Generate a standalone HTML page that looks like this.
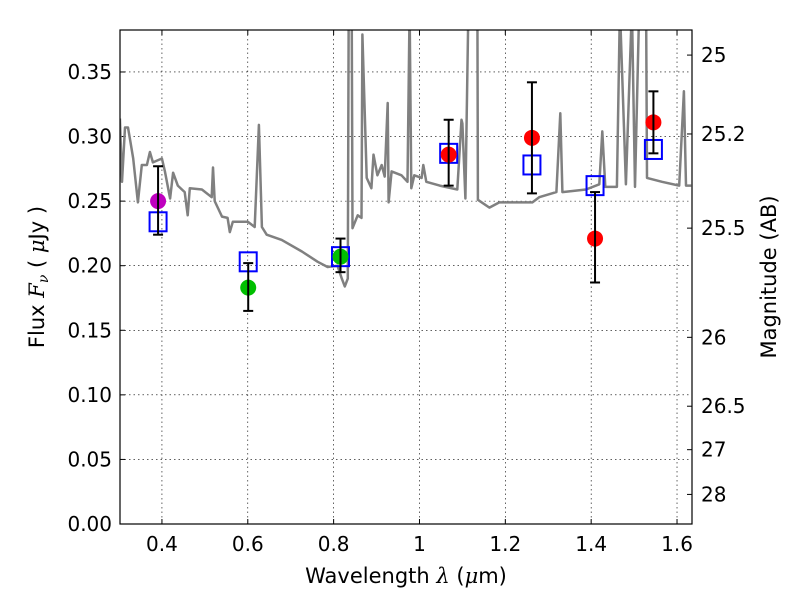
<!DOCTYPE html>
<html><head><meta charset="utf-8"><style>
body{margin:0;background:#fff;}
svg text{font-family:"DejaVu Sans","Liberation Sans",sans-serif;}
</style></head><body>
<svg id="chart" width="800" height="600"></svg>
<script>
const specLam=[0.302,0.307,0.314,0.321,0.326,0.333,0.344,0.353,0.365,0.372,0.379,0.400,0.407,0.419,0.426,0.437,0.453,0.460,0.465,0.493,0.516,0.519,0.523,0.540,0.553,0.558,0.565,0.600,0.616,0.626,0.633,0.644,0.679,0.726,0.763,0.786,0.809,0.819,0.826,0.833,0.835,0.842,0.844,0.856,0.865,0.867,0.877,0.888,0.893,0.902,0.912,0.919,0.926,0.928,0.935,0.958,0.972,0.977,0.981,0.988,1.005,1.009,1.016,1.047,1.088,1.098,1.100,1.107,1.114,1.135,1.136,1.163,1.186,1.263,1.279,1.319,1.328,1.333,1.388,1.419,1.426,1.433,1.460,1.467,1.481,1.495,1.502,1.512,1.528,1.530,1.565,1.605,1.616,1.621,1.633];
const specFlux=[0.314,0.265,0.307,0.307,0.297,0.283,0.249,0.278,0.278,0.288,0.280,0.283,0.273,0.252,0.272,0.262,0.257,0.239,0.260,0.259,0.253,0.276,0.250,0.238,0.237,0.226,0.234,0.234,0.230,0.309,0.230,0.224,0.220,0.211,0.203,0.199,0.200,0.190,0.184,0.190,0.40,0.40,0.229,0.239,0.237,0.379,0.268,0.260,0.286,0.270,0.278,0.269,0.326,0.249,0.273,0.270,0.265,0.40,0.260,0.270,0.268,0.278,0.265,0.262,0.259,0.313,0.310,0.252,0.40,0.40,0.251,0.245,0.249,0.249,0.253,0.257,0.318,0.257,0.259,0.263,0.304,0.261,0.261,0.40,0.263,0.40,0.261,0.40,0.40,0.268,0.265,0.262,0.335,0.262,0.262];
const obsLam=[0.391,0.601,0.816,1.068,1.262,1.409,1.545];
const obsFlux=[0.250,0.183,0.207,0.286,0.299,0.221,0.311];
const errLo=[0.224,0.165,0.195,0.262,0.256,0.187,0.287];
const errHi=[0.277,0.202,0.221,0.313,0.342,0.257,0.335];
const obsColor=['#bf00bf','#00bf00','#00bf00','#ff0000','#ff0000','#ff0000','#ff0000'];
const modelFlux=[0.234,0.203,0.207,0.287,0.278,0.262,0.290];
const xTicks=[0.4,0.6,0.8,1.0,1.2,1.4,1.6];
const xTickLabels=['0.4','0.6','0.8','1','1.2','1.4','1.6'];
const yTicks=[0,0.05,0.10,0.15,0.20,0.25,0.30,0.35];
const magTicks=[25,25.2,25.5,26,26.5,27,28];

const NS='http://www.w3.org/2000/svg';
const svg=document.getElementById('chart');
const L=120,R=692,T=30,B=524;
const xMin=0.3023,xMax=1.6349,yMin=0,yMax=0.3825;
const X=v=>L+(v-xMin)/(xMax-xMin)*(R-L);
const Y=v=>B-(v-yMin)/(yMax-yMin)*(B-T);
function el(tag,attrs,parent){const e=document.createElementNS(NS,tag);for(const k in attrs)e.setAttribute(k,attrs[k]);(parent||svg).appendChild(e);return e;}
const defs=el('defs',{});
const cp=el('clipPath',{id:'clip'},defs);
el('rect',{x:L,y:T,width:R-L,height:B-T},cp);

xTicks.forEach((t,i)=>{
  const g=el('line',{x1:X(t),x2:X(t),y1:T,y2:B,stroke:'#000','stroke-width':0.6,'stroke-dasharray':'1.5,3'});
  
  
  el('line',{x1:X(t),x2:X(t),y1:B,y2:B-5,stroke:'#000'});
  el('line',{x1:X(t),x2:X(t),y1:T,y2:T+5,stroke:'#000'});
  const tx=el('text',{x:X(t),y:B+27,'font-size':20,'text-anchor':'middle'});
  tx.textContent=xTickLabels[i];
  
  
});
yTicks.forEach(t=>{
  const g=el('line',{x1:L,x2:R,y1:Y(t),y2:Y(t),stroke:'#000','stroke-width':0.6,'stroke-dasharray':'1.5,3'});
  
  
  el('line',{x1:L,x2:L+5,y1:Y(t),y2:Y(t),stroke:'#000'});
  const tx=el('text',{x:L-8,y:Y(t)+7,'font-size':20,'text-anchor':'end'});
  tx.textContent=t.toFixed(2);
  
  
});
magTicks.forEach(m=>{
  const f=Math.pow(10,(23.9-m)/2.5);
  const yy=Y(f);
  el('line',{x1:R-5,x2:R,y1:yy,y2:yy,stroke:'#000'});
  const tx=el('text',{x:R+9,y:yy+7,'font-size':20});
  tx.textContent=String(m);
  
  
});

const pts=specLam.map((l,i)=>X(l).toFixed(1)+','+Y(specFlux[i]).toFixed(1)).join(' ');
const sp=el('polyline',{points:pts,fill:'none',stroke:'#808080','stroke-width':2.5,'clip-path':'url(#clip)','stroke-linejoin':'round'});



modelFlux.forEach((f,i)=>{
  const s=el('rect',{x:X(obsLam[i])-8.5,y:Y(f)-9.5,width:17,height:19,fill:'none',stroke:'#0000ff','stroke-width':2});
  
  
});
obsLam.forEach((l,i)=>{
  const c=el('circle',{cx:X(l),cy:Y(obsFlux[i]),r:8,fill:obsColor[i]});
  
  
  const x=X(l);
  const e=el('line',{x1:x,x2:x,y1:Y(errLo[i]),y2:Y(errHi[i]),stroke:'#000','stroke-width':2});
  
  
  el('line',{x1:x-5,x2:x+5,y1:Y(errLo[i]),y2:Y(errLo[i]),stroke:'#000','stroke-width':2});
  el('line',{x1:x-5,x2:x+5,y1:Y(errHi[i]),y2:Y(errHi[i]),stroke:'#000','stroke-width':2});
});

const fr=el('rect',{x:L,y:T,width:R-L,height:B-T,fill:'none',stroke:'#000','stroke-width':1.2});



const xt=el('text',{x:406,y:583,'font-size':21,'text-anchor':'middle'});
xt.innerHTML='Wavelength  <tspan font-style="italic" font-family="DejaVu Serif, serif">λ</tspan> (<tspan font-style="italic" font-family="DejaVu Serif, serif">μ</tspan>m)';


const yt=el('text',{x:44,y:277,'font-size':21,'text-anchor':'middle',transform:'rotate(-90 44 277)'});
yt.innerHTML='Flux  <tspan font-style="italic" font-family="DejaVu Serif, serif">F<tspan font-size="14" dy="4">ν</tspan></tspan><tspan dy="-4">  ( </tspan><tspan font-style="italic" font-family="DejaVu Serif, serif">μ</tspan>Jy )';


const rt=el('text',{x:776,y:277,'font-size':21,'text-anchor':'middle',transform:'rotate(-90 776 277)'});
rt.textContent='Magnitude (AB)';


</script>
</body></html>
